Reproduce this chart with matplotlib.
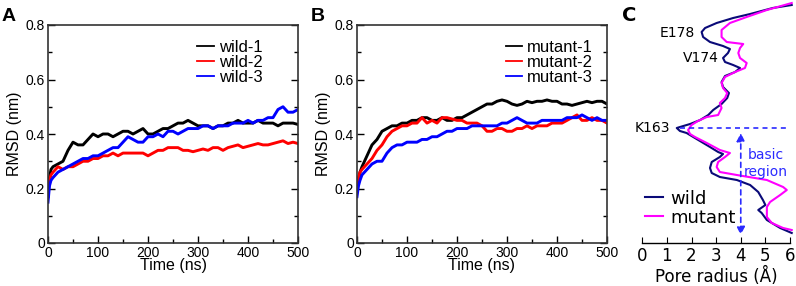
import numpy as np
import matplotlib
matplotlib.use('Agg')
import matplotlib.pyplot as plt
from matplotlib.ticker import MultipleLocator

# time axis (ns)
time = np.concatenate(([0, 3, 6], np.arange(10, 501, 10)))

# RMSD (nm), panel A
wild1 = [0.17, 0.24, 0.27,
         0.28, 0.29, 0.30, 0.34, 0.37, 0.36, 0.36, 0.38, 0.40, 0.39,
         0.40, 0.40, 0.39, 0.40, 0.41, 0.41, 0.40, 0.41, 0.42, 0.40,
         0.40, 0.41, 0.42, 0.42, 0.43, 0.44, 0.44, 0.45, 0.44, 0.43,
         0.43, 0.43, 0.42, 0.43, 0.43, 0.44, 0.44, 0.45, 0.44, 0.44,
         0.44, 0.45, 0.44, 0.44, 0.44, 0.43, 0.44, 0.44, 0.44, 0.435]
wild2 = [0.19, 0.23, 0.25,
         0.26, 0.28, 0.27, 0.28, 0.28, 0.29, 0.30, 0.30, 0.31, 0.31,
         0.32, 0.32, 0.33, 0.32, 0.33, 0.33, 0.33, 0.33, 0.33, 0.32,
         0.33, 0.34, 0.34, 0.35, 0.35, 0.35, 0.34, 0.34, 0.335, 0.34,
         0.345, 0.34, 0.35, 0.35, 0.34, 0.35, 0.355, 0.36, 0.35, 0.355,
         0.36, 0.365, 0.36, 0.36, 0.365, 0.37, 0.375, 0.365, 0.37, 0.365]
wild3 = [0.15, 0.21, 0.23,
         0.24, 0.26, 0.27, 0.28, 0.29, 0.30, 0.31, 0.31, 0.32, 0.32,
         0.33, 0.34, 0.35, 0.35, 0.37, 0.39, 0.38, 0.37, 0.37, 0.39,
         0.39, 0.40, 0.39, 0.41, 0.41, 0.40, 0.41, 0.42, 0.42, 0.42,
         0.43, 0.43, 0.42, 0.43, 0.43, 0.43, 0.44, 0.44, 0.44, 0.45,
         0.44, 0.45, 0.45, 0.46, 0.46, 0.49, 0.50, 0.48, 0.48, 0.49]

# RMSD (nm), panel B
mut1 = [0.19, 0.23, 0.26,
        0.28, 0.32, 0.36, 0.38, 0.41, 0.42, 0.43, 0.43, 0.44, 0.44,
        0.45, 0.45, 0.46, 0.46, 0.45, 0.45, 0.46, 0.45, 0.45, 0.46,
        0.46, 0.47, 0.48, 0.49, 0.50, 0.51, 0.51, 0.52, 0.525, 0.52,
        0.51, 0.505, 0.51, 0.52, 0.515, 0.52, 0.52, 0.525, 0.52, 0.52,
        0.51, 0.51, 0.505, 0.51, 0.515, 0.52, 0.515, 0.52, 0.52, 0.51]
mut2 = [0.22, 0.24, 0.26,
        0.27, 0.29, 0.31, 0.34, 0.36, 0.39, 0.41, 0.42, 0.43, 0.43,
        0.44, 0.44, 0.46, 0.44, 0.45, 0.44, 0.46, 0.46, 0.455, 0.45,
        0.45, 0.44, 0.44, 0.44, 0.43, 0.41, 0.41, 0.42, 0.42, 0.41,
        0.41, 0.42, 0.42, 0.43, 0.42, 0.43, 0.43, 0.43, 0.44, 0.44,
        0.44, 0.45, 0.46, 0.47, 0.45, 0.45, 0.46, 0.45, 0.45, 0.44]
mut3 = [0.17, 0.21, 0.23,
        0.25, 0.27, 0.29, 0.30, 0.30, 0.33, 0.35, 0.36, 0.36, 0.37,
        0.37, 0.37, 0.38, 0.38, 0.39, 0.39, 0.40, 0.41, 0.41, 0.42,
        0.42, 0.42, 0.43, 0.43, 0.43, 0.43, 0.43, 0.43, 0.44, 0.44,
        0.45, 0.46, 0.45, 0.44, 0.44, 0.44, 0.45, 0.45, 0.45, 0.45,
        0.45, 0.46, 0.46, 0.46, 0.47, 0.46, 0.45, 0.46, 0.45, 0.45]

# pore profile, panel C: radius (A) vs position along pore (arbitrary units)
wild_r = [6.07, 5.3, 4.38, 3.69, 3.02, 2.55, 2.41, 2.47, 2.75, 3.28, 3.56, 3.48,
          3.28, 3.36, 3.69, 3.97, 3.77, 3.36, 3.22, 3.28, 3.52, 3.45, 3.22, 2.88,
          2.68, 2.35, 1.94, 1.53, 1.40, 1.53, 1.80, 2.07, 2.41, 2.75, 3.08, 3.28,
          3.15, 2.82, 2.75, 2.82, 3.15, 3.84, 4.38, 4.71, 4.90, 5.0, 4.71, 4.85,
          5.06, 5.6, 6.07]
wild_z = [238, 235, 229, 225, 220, 215, 211, 206, 201, 197, 194, 190,
          185, 181, 178, 175, 171, 167, 161, 156, 150, 145, 139, 133,
          128, 123, 119, 116, 115, 112, 110, 106, 101, 96, 91, 89,
          86, 81, 75, 70, 66, 63, 58, 51, 43, 38, 33, 30,
          23, 15, 10]
mut_r = [6.07, 5.06, 4.24, 3.56, 3.22, 3.22, 3.43, 4.1, 3.97, 3.9, 3.97, 4.24,
         4.17, 3.77, 3.36, 3.22, 3.28, 3.45, 3.36, 3.15, 3.22, 3.08, 2.62, 2.26,
         2.0, 1.86, 1.94, 2.14, 2.62, 3.15, 3.56, 3.36, 3.08, 3.02, 3.15, 3.84,
         5.06, 5.72, 5.87, 5.6, 5.19, 5.06, 5.06, 5.26, 5.72, 6.07]
mut_z = [240, 233, 226, 220, 213, 206, 201, 199, 195, 190, 185, 180,
         175, 171, 166, 160, 155, 150, 145, 140, 135, 128, 126, 122,
         118, 113, 109, 106, 100, 93, 90, 86, 81, 76, 71, 68,
         63, 56, 53, 48, 41, 36, 26, 20, 15, 13]

W, H = 796, 286
fig = plt.figure(figsize=(W / 100, H / 100), dpi=100)
ff = 'Liberation Sans'


def rmsd_panel(left, series, names, letter, leg_x):
    ax = fig.add_axes([left / W, 43 / H, 250 / W, 218 / H])
    for y, c, n in zip(series, ['black', 'red', 'blue'], names):
        ax.plot(time, y, color=c, lw=2.1, label=n)
    ax.set_xlim(0, 500)
    ax.set_ylim(0, 0.8)
    ax.xaxis.set_major_locator(MultipleLocator(100))
    ax.xaxis.set_minor_locator(MultipleLocator(50))
    ax.yaxis.set_minor_locator(MultipleLocator(0.1))
    ax.set_yticks([0, 0.2, 0.4, 0.6, 0.8])
    ax.set_yticklabels(['0', '0.2', '0.4', '0.6', '0.8'])
    ax.tick_params(which='both', direction='in', right=True, top=False,
                   labelsize=10, width=1.0, pad=2)
    ax.tick_params(which='major', length=5)
    ax.tick_params(which='minor', length=3)
    for lab in ax.get_xticklabels() + ax.get_yticklabels():
        lab.set_family(ff)
    for s in ax.spines.values():
        s.set_linewidth(1.2)
        s.set_color('#333333')
    ax.set_xlabel('Time (ns)', fontsize=11.5, family=ff, labelpad=-1)
    ax.set_ylabel('RMSD (nm)', fontsize=11.5, family=ff, labelpad=3)
    leg = ax.legend(loc='upper left', bbox_to_anchor=(leg_x, 0.932), frameon=False,
                    prop={'family': ff, 'size': 12}, handlelength=1.0,
                    handletextpad=0.3, labelspacing=0.0, borderpad=0,
                    borderaxespad=0)
    for ln in leg.get_lines():
        ln.set_linewidth(1.3)
    fig.text((left - 46) / W, 1 - 8 / H, letter, fontsize=14, weight='bold',
             family=ff, va='top', ha='left')
    return ax


rmsd_panel(48, [wild1, wild2, wild3], ['wild-1', 'wild-2', 'wild-3'], 'A', 0.596)
rmsd_panel(357, [mut1, mut2, mut3], ['mutant-1', 'mutant-2', 'mutant-3'], 'B', 0.594)

# panel C
axc = fig.add_axes([642.3 / W, 43 / H, 147.7 / W, 243 / H])
axc.plot(wild_r, wild_z, color='#0a0a78', lw=1.5, label='wild', clip_on=False)
axc.plot(mut_r, mut_z, color='#ff00ff', lw=1.5, label='mutant', clip_on=False)
axc.set_xlim(0, 6)
axc.set_ylim(0, 243)
axc.set_yticks([])
for s in ['left', 'right', 'top']:
    axc.spines[s].set_visible(False)
axc.spines['bottom'].set_linewidth(1.0)
axc.xaxis.set_major_locator(MultipleLocator(1))
axc.tick_params(axis='x', direction='in', length=4, labelsize=12, pad=3)
axc.set_xlabel('Pore radius (Å)', fontsize=12, labelpad=1)

axc.text(2.14, 210, 'E178', ha='right', va='center', fontsize=10)
axc.text(3.12, 185, 'V174', ha='right', va='center', fontsize=10)
axc.text(1.12, 115, 'K163', ha='right', va='center', fontsize=10)
axc.plot([1.55, 6.0], [115, 115], color='#2a2aff', lw=1.2, ls=(0, (3, 2.5)))
axc.annotate('', xy=(4.0, 8), xytext=(4.0, 110),
             arrowprops=dict(arrowstyle='<|-|>', color='#2a2aff', lw=1.2,
                             ls=(0, (3, 2.5)), mutation_scale=12,
                             shrinkA=0, shrinkB=0))
axc.text(5.0, 88, 'basic', ha='center', va='center', fontsize=10, color='#2a2aff')
axc.text(5.0, 71, 'region', ha='center', va='center', fontsize=10, color='#2a2aff')
axc.legend(loc='lower left', bbox_to_anchor=(-0.04, 0.03), frameon=False,
           fontsize=13, handlelength=1.0, handletextpad=0.4,
           labelspacing=0.05, borderpad=0)
fig.text(622 / W, 1 - 6 / H, 'C', fontsize=14, weight='bold', va='top', ha='left')

fig.savefig('out.png', dpi=100)
